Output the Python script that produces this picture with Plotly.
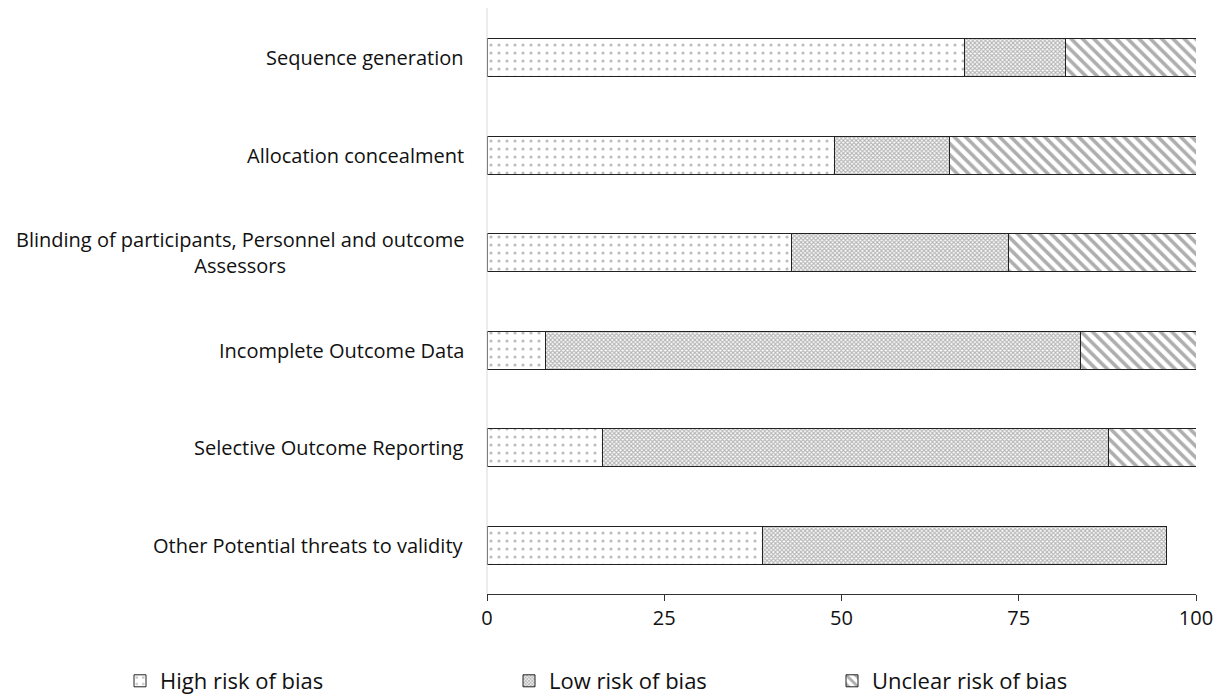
import plotly.graph_objects as go

categories = [
    "Sequence generation",
    "Allocation concealment",
    "Blinding of participants, Personnel and outcome<br>Assessors",
    "Incomplete Outcome Data",
    "Selective Outcome Reporting",
    "Other Potential threats to validity",
]
high_risk = [67.3, 49.0, 42.9, 8.2, 16.3, 38.8]
low_risk = [14.3, 16.3, 30.6, 75.5, 71.4, 57.1]
unclear_risk = [18.4, 34.7, 26.5, 16.3, 12.3, 0.0]
x_ticks = [0, 25, 50, 75, 100]

FONT = "Open Sans"
W, H = 1224, 692  # page body has an 8px margin
fig = go.Figure()

fig.add_trace(go.Bar(
    y=categories, x=high_risk, orientation="h", name="High risk of bias",
    marker=dict(color="white", line=dict(color="#222", width=1),
                pattern=dict(shape=".", fgcolor="#777", bgcolor="white", size=8, solidity=0.12)),
    legend="legend",
))
fig.add_trace(go.Bar(
    y=categories, x=low_risk, orientation="h", name="Low risk of bias",
    marker=dict(color="white", line=dict(color="#222", width=1),
                pattern=dict(shape="x", fgcolor="#6a6a6a", bgcolor="white", size=3, solidity=0.6)),
    legend="legend2",
))
fig.add_trace(go.Bar(
    y=categories, x=unclear_risk, orientation="h", name="Unclear risk of bias",
    marker=dict(color="white", line=dict(color="#222", width=1),
                pattern=dict(shape="\\", fgcolor="#5e5e5e", bgcolor="white", size=8, solidity=0.45)),
    legend="legend3",
))

for c in categories:
    fig.add_annotation(x=0, xref="paper", xanchor="right", xshift=-21, y=c, yref="y",
                       text=c, showarrow=False, align="center",
                       font=dict(family=FONT, size=20, color="#111"))

fig.add_shape(type="line", xref="paper", yref="paper", x0=0, x1=0, y0=0, y1=1.02,
              line=dict(color="#d9d9d9", width=1))

leg_common = dict(orientation="h", yanchor="middle", y=1 - 673 / H, xanchor="left",
                  xref="container", yref="container", visible=True,
                  font=dict(family=FONT, size=22, color="#111"), itemwidth=30,
                  bgcolor="rgba(0,0,0,0)")
fig.update_layout(
    barmode="stack",
    bargap=0.61,
    showlegend=True,
    width=W, height=H,
    margin=dict(l=479, r=36, t=1, b=106, autoexpand=False),
    plot_bgcolor="white", paper_bgcolor="white",
    legend=dict(x=112 / W, **leg_common),
    legend2=dict(x=501 / W, **leg_common),
    legend3=dict(x=824 / W, **leg_common),
    xaxis=dict(range=[0, 100], tickvals=x_ticks, showgrid=False, zeroline=False,
               showline=True, linecolor="#333", linewidth=1, ticks="outside",
               ticklen=6, tickcolor="#333",
               tickfont=dict(family=FONT, size=20, color="#111")),
    yaxis=dict(categoryorder="array", categoryarray=categories, autorange="reversed",
               showticklabels=False, showgrid=False, zeroline=False, showline=False,
               ticks=""),
)

fig.write_html("out.html")
